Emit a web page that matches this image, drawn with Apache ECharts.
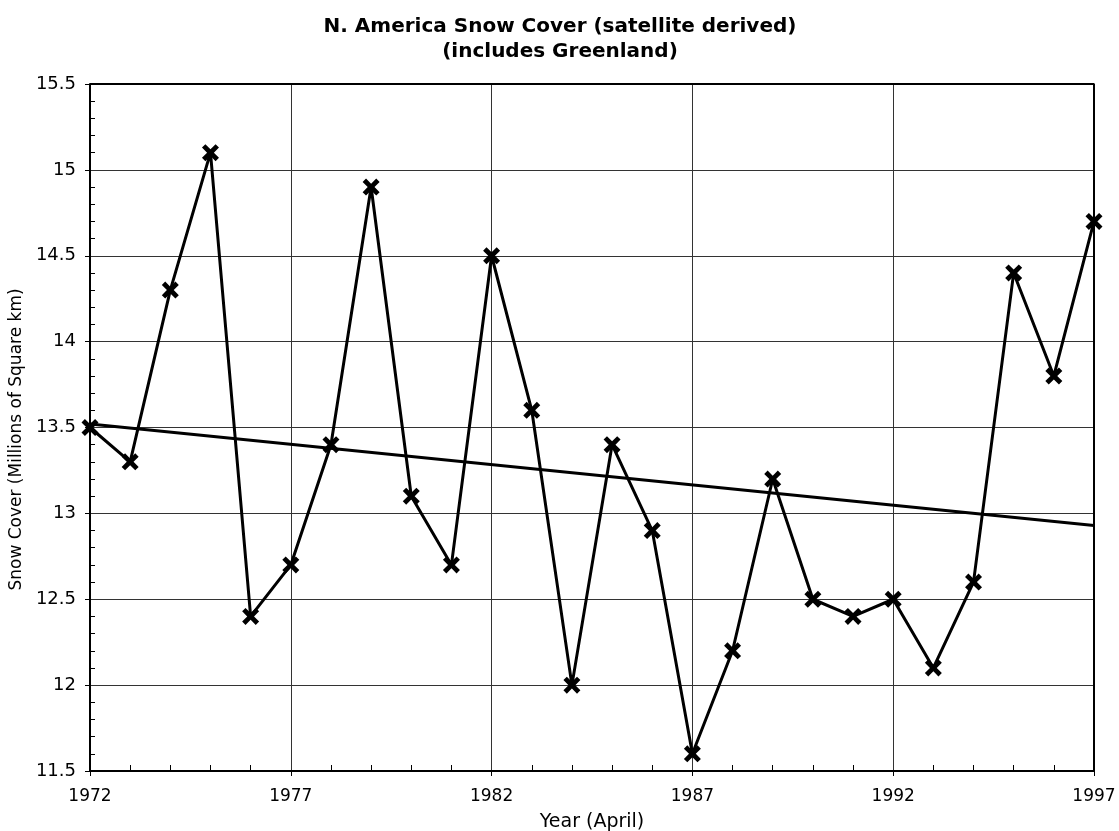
<!DOCTYPE html>
<html>
<head>
    <meta charset="utf-8">
    <title>N. America Snow Cover</title>
    <script src="https://cdn.jsdelivr.net/npm/echarts@6/dist/echarts.min.js"></script>
    <style>
        body, html { margin: 0; padding: 0; width: 100%; height: 100%; overflow: hidden; background: #fff; }
        #main { width: 1119px; height: 831px; }
    </style>
</head>
<body>
    <div id="main"></div>
    <script>
        // 4月积雪面积（百万平方公里）
        const years = [1972, 1973, 1974, 1975, 1976, 1977, 1978, 1979, 1980, 1981, 1982, 1983, 1984,
                       1985, 1986, 1987, 1988, 1989, 1990, 1991, 1992, 1993, 1994, 1995, 1996, 1997];
        const snowCover = [13.5, 13.3, 14.3, 15.1, 12.4, 12.7, 13.4, 14.9, 13.1, 12.7, 14.5, 13.6, 12.0,
                           13.4, 12.9, 11.6, 12.2, 13.2, 12.5, 12.4, 12.5, 12.1, 12.6, 14.4, 13.8, 14.7];
        // 趋势线两端
        const trendYears = [1972, 1997];
        const trendValues = [13.52, 12.93];

        const xMark = 'path://M0,4 L4,0 L10,6 L16,0 L20,4 L14,10 L20,16 L16,20 L10,14 L4,20 L0,16 L6,10 Z';
        const font = 'DejaVu Sans, sans-serif';

        var chart = echarts.init(document.getElementById('main'));
        chart.setOption({
            backgroundColor: '#fff',
            animation: false,
            title: {
                text: 'N. America Snow Cover (satellite derived)\n(includes Greenland)',
                left: 555,
                textAlign: 'center',
                top: 9,
                textStyle: { fontFamily: font, fontSize: 20, fontWeight: 'bold', color: '#000', lineHeight: 25 }
            },
            grid: { left: 90, right: 25, top: 84, bottom: 60, outerBoundsMode: 'none', containLabel: false },
            xAxis: {
                type: 'value', min: 1972, max: 1997, interval: 5,
                name: 'Year (April)', nameLocation: 'middle', nameGap: 42,
                nameTextStyle: { fontFamily: font, fontSize: 19, color: '#000' },
                axisLine: { show: true, onZero: false, lineStyle: { color: '#000', width: 2 } },
                axisTick: { show: true, length: 5, lineStyle: { color: '#000' } },
                minorTick: { show: true, splitNumber: 5, length: -6, lineStyle: { color: '#000' } },
                axisLabel: { fontFamily: font, fontSize: 17, color: '#000', margin: 17, formatter: v => String(v) },
                splitLine: { show: true, lineStyle: { color: '#333', width: 1 } }
            },
            yAxis: {
                type: 'value', min: 11.5, max: 15.5, interval: 0.5,
                name: 'Snow Cover (Millions of Square km)', nameLocation: 'middle', nameGap: 58,
                nameTextStyle: { fontFamily: font, fontSize: 17, color: '#000', padding: [0, 24, 0, 0] },
                axisLine: { show: true, lineStyle: { color: '#000', width: 2 } },
                axisTick: { show: true, length: 5, lineStyle: { color: '#000' } },
                minorTick: { show: true, splitNumber: 5, length: -5, lineStyle: { color: '#000' } },
                axisLabel: { fontFamily: font, fontSize: 18, color: '#000', margin: 14 },
                splitLine: { show: true, lineStyle: { color: '#333', width: 1 } }
            },
            series: [
                {
                    type: 'line',
                    data: trendYears.map((y, i) => [y, trendValues[i]]),
                    symbol: 'none',
                    lineStyle: { color: '#000', width: 3 },
                    z: 2
                },
                {
                    type: 'line',
                    data: years.map((y, i) => [y, snowCover[i]]),
                    symbol: xMark,
                    symbolSize: 17,
                    itemStyle: { color: '#000' },
                    lineStyle: { color: '#000', width: 3 },
                    z: 3
                },
                {
                    // 上边框与右边框
                    type: 'line',
                    data: [[1972, 15.5], [1997, 15.5], [1997, 11.5]],
                    symbol: 'none',
                    lineStyle: { color: '#000', width: 2 },
                    z: 1
                }
            ]
        });
        window.addEventListener('resize', function () { chart.resize(); });
    </script>
</body>
</html>
